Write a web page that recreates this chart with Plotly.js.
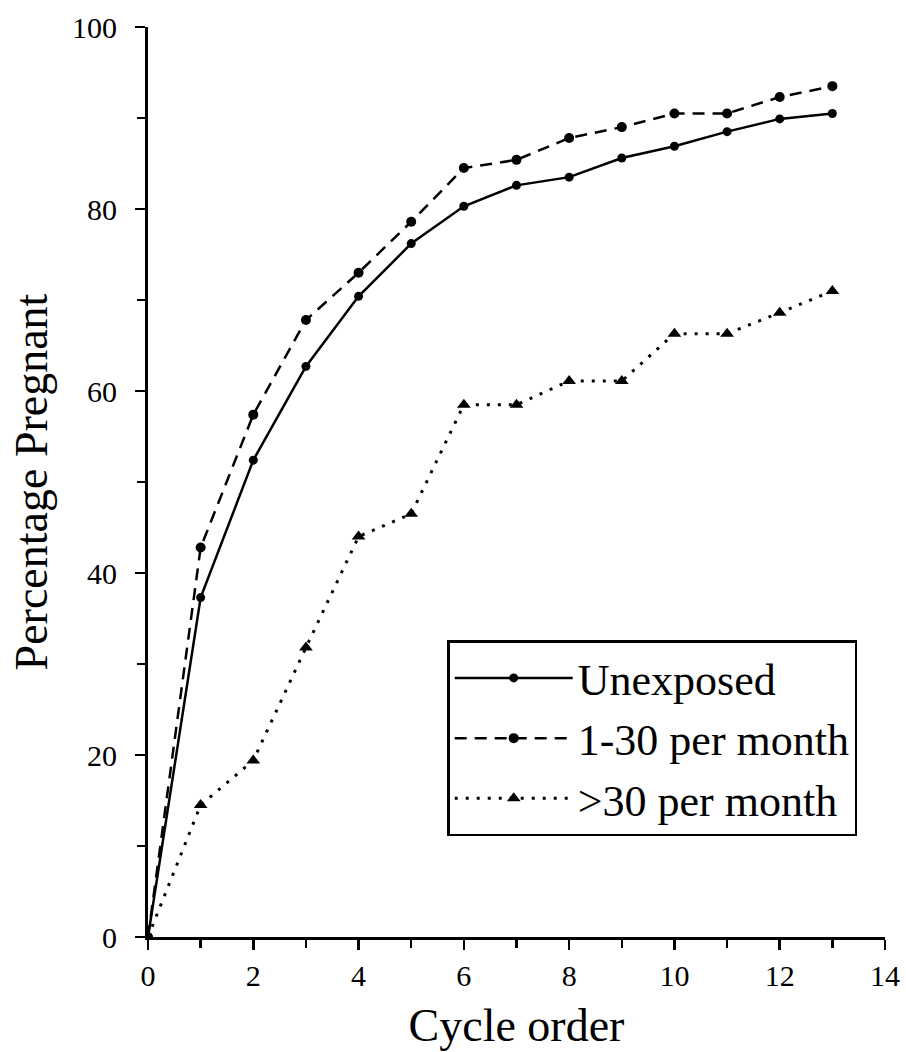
<!DOCTYPE html>
<html>
<head>
<meta charset="utf-8">
<script src="https://cdn.plot.ly/plotly-3.0.1.min.js"></script>
<style>html,body{margin:0;padding:0;background:#fff;}</style>
</head>
<body>
<div id="chart" style="width:906px;height:1052px;"></div>
<script>
const cycles = [0,1,2,3,4,5,6,7,8,9,10,11,12,13];
const unexposed = [0,37.3,52.4,62.7,70.4,76.2,80.3,82.6,83.5,85.6,86.9,88.5,89.9,90.5];
const low = [0,42.8,57.4,67.8,73.0,78.6,84.5,85.4,87.8,89.0,90.5,90.5,92.3,93.5];
const high = [0,14.5,19.4,31.8,44.0,46.5,58.5,58.5,61.1,61.1,66.3,66.3,68.6,71.0];
const names = ["Unexposed","1-30 per month",">30 per month"];

const font = "Liberation Serif, Times New Roman, serif";
const traces = [
  {x: cycles, y: unexposed, name: names[0], mode: "lines+markers",
   line: {color: "#000", width: 2.5, dash: "solid"},
   marker: {symbol: "circle", size: 9, color: "#000"}},
  {x: cycles, y: low, name: names[1], mode: "lines+markers",
   line: {color: "#000", width: 2.5, dash: "12px,8px"},
   marker: {symbol: "circle", size: 10, color: "#000"}},
  {x: cycles, y: high, name: names[2], mode: "lines+markers",
   line: {color: "#000", width: 3, dash: "3px,8px"},
   marker: {symbol: "triangle-up", size: 12, color: "#000"}}
];

const layout = {
  width: 906, height: 1052,
  margin: {l: 148, r: 21, t: 27, b: 115},
  paper_bgcolor: "#fff", plot_bgcolor: "#fff",
  font: {family: font, color: "#000", size: 30},
  showlegend: true,
  legend: {
    x: 0.406, y: 0.326, xanchor: "left", yanchor: "top",
    bgcolor: "#fff", bordercolor: "#000", borderwidth: 2.5,
    font: {family: font, size: 44, color: "#000"},
    itemwidth: 118, tracegroupgap: 0
  },
  xaxis: {
    range: [0, 14], dtick: 2, tick0: 0,
    showgrid: false, zeroline: false,
    showline: true, linecolor: "#000", linewidth: 3,
    ticks: "outside", ticklen: 10, tickwidth: 2.5, tickcolor: "#000",
    minor: {dtick: 1, ticks: "outside", ticklen: 8, tickwidth: 2.5, tickcolor: "#000", showgrid: false},
    tickfont: {family: font, size: 30},
    title: {text: "Cycle order", font: {family: font, size: 46}, standoff: 18}
  },
  yaxis: {
    range: [0, 100], dtick: 20, tick0: 0,
    showgrid: false, zeroline: false,
    showline: true, linecolor: "#000", linewidth: 3,
    ticks: "outside", ticklen: 10, tickwidth: 2.5, tickcolor: "#000",
    ticklabelstandoff: 12,
    minor: {dtick: 10, ticks: "outside", ticklen: 8, tickwidth: 2.5, tickcolor: "#000", showgrid: false},
    tickfont: {family: font, size: 30},
    title: {text: "Percentage Pregnant", font: {family: font, size: 46}, standoff: 10}
  }
};

Plotly.newPlot("chart", traces, layout, {displayModeBar: false, staticPlot: true});
</script>
</body>
</html>
